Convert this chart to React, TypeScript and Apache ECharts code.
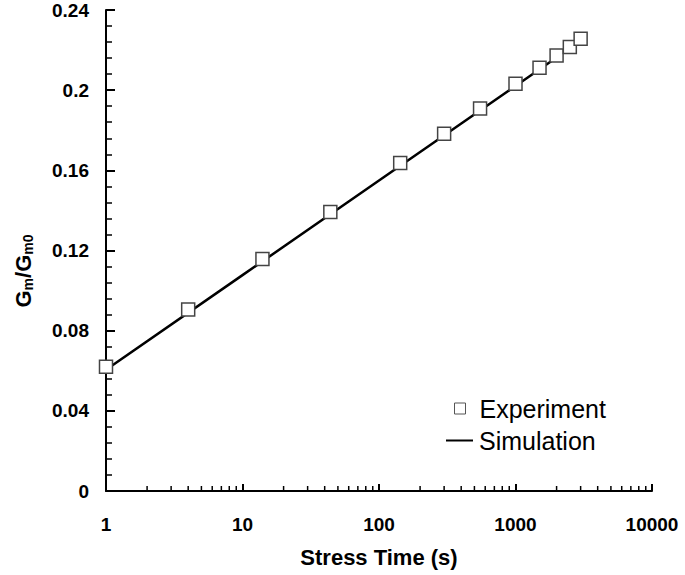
import React, { useEffect, useRef } from "react";
import * as echarts from "echarts";

const expTime = [1, 4, 14, 44, 143, 300, 550, 1000, 1500, 2000, 2500, 3000];
const expRatio = [0.062, 0.0905, 0.1158, 0.1392, 0.1637, 0.1782, 0.1908, 0.2032, 0.2112, 0.2173, 0.2216, 0.2256];
const simTime = [1, 10, 100, 1000, 2000];
const simRatio = [0.0605, 0.1077, 0.1549, 0.2021, 0.2163];
const xMinorTicks = [2, 3, 4, 5, 6, 7, 8, 9, 20, 30, 40, 50, 60, 70, 80, 90, 200, 300, 400, 500, 600, 700, 800, 900, 2000, 3000, 4000, 5000, 6000, 7000, 8000, 9000];
const FONT = "'Liberation Sans', Arial, sans-serif";

export default function App() {
  const ref = useRef<HTMLDivElement>(null);
  useEffect(() => {
    if (!ref.current) return;
    const chart = echarts.init(ref.current, null, { renderer: "svg" });
    chart.setOption({
      animation: false,
      backgroundColor: "#fff",
      textStyle: { fontFamily: FONT },
      grid: { left: 106, right: 33, top: 10, bottom: 84 },
      xAxis: {
        type: "log",
        logBase: 10,
        min: 1,
        max: 10000,
        name: "Stress Time (s)",
        nameLocation: "middle",
        nameGap: 55,
        nameTextStyle: { fontFamily: FONT, fontWeight: "bold", fontSize: 22, color: "#000" },
        axisLine: { lineStyle: { color: "#000", width: 2 } },
        axisTick: { inside: true, length: 7, lineStyle: { color: "#000", width: 2 } },
        minorTick: { show: false },
        splitLine: { show: false },
        axisLabel: {
          margin: 24,
          fontFamily: FONT,
          fontWeight: "bold",
          fontSize: 19,
          color: "#000",
          formatter: (v: number) => String(Math.round(v)),
        },
      },
      yAxis: {
        type: "value",
        min: 0,
        max: 0.24,
        interval: 0.04,
        axisLine: { show: true, lineStyle: { color: "#000", width: 2 } },
        axisTick: { show: true, inside: true, length: 9, lineStyle: { color: "#000", width: 2 } },
        minorTick: { show: true, splitNumber: 5, length: 6, lineStyle: { color: "#000", width: 1.5 } },
        splitLine: { show: false },
        axisLabel: {
          margin: 17,
          fontFamily: FONT,
          fontWeight: "bold",
          fontSize: 19,
          color: "#000",
        },
      },
      legend: [
        {
          data: ["Experiment"],
          orient: "vertical",
          left: 454,
          top: 396,
          padding: 0,
          itemWidth: 11,
          itemHeight: 11,
          itemStyle: { color: "#fff", borderColor: "#555", borderWidth: 1 },
          textStyle: { fontFamily: FONT, fontSize: 25, color: "#000", padding: [0, 0, 0, 9] },
        },
        {
          data: [{ name: "Simulation", icon: "rect" }],
          orient: "vertical",
          left: 446,
          top: 428,
          padding: 0,
          itemWidth: 27,
          itemHeight: 2,
          itemStyle: { color: "#000" },
          textStyle: { fontFamily: FONT, fontSize: 25, color: "#000", padding: [0, 0, 0, 1] },
        },
      ],
      graphic: [
        {
          type: "text",
          x: 23,
          y: 271,
          rotation: Math.PI / 2,
          style: {
            text: "{a|G}{b|m}{a|/G}{b|m0}",
            align: "center",
            verticalAlign: "middle",
            fill: "#000",
            rich: {
              a: { fontFamily: FONT, fontWeight: "bold", fontSize: 22, lineHeight: 22, fill: "#000" },
              b: { fontFamily: FONT, fontWeight: "bold", fontSize: 14, lineHeight: 14, padding: [10, 0, 0, 0], fill: "#000" },
            },
          },
        },
      ],
      series: [
        {
          name: "Simulation",
          type: "line",
          data: simTime.map((t, i) => [t, simRatio[i]]),
          symbol: "none",
          lineStyle: { color: "#000", width: 2.5 },
          itemStyle: { color: "#000" },
          z: 2,
        },
        {
          name: "Experiment",
          type: "scatter",
          data: expTime.map((t, i) => [t, expRatio[i]]),
          symbol: "rect",
          symbolSize: 13,
          itemStyle: { color: "#fff", borderColor: "#444", borderWidth: 1.5, opacity: 1 },
          z: 3,
        },
        {
          name: "minorTicks",
          type: "custom",
          silent: true,
          data: xMinorTicks.map((v) => [v, 0]),
          renderItem: (params: any, api: any) => {
            const p = api.coord([api.value(0), 0]);
            return {
              type: "line",
              shape: { x1: p[0], y1: p[1], x2: p[0], y2: p[1] - 5 },
              style: { stroke: "#000", lineWidth: 1.5 },
            };
          },
          z: 4,
        },
      ],
    });
    return () => chart.dispose();
  }, []);
  return <div ref={ref} style={{ width: 685, height: 575, position: "absolute", left: 0, top: 0 }} />;
}
